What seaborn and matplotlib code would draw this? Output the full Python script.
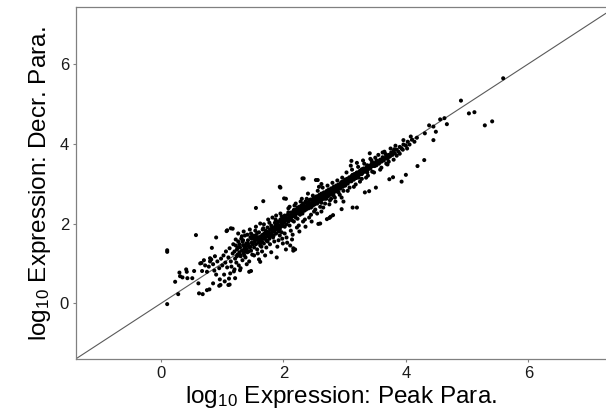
import matplotlib
matplotlib.use("Agg")
import matplotlib.pyplot as plt
import seaborn as sns
import pandas as pd

# ---- data: (log10 Peak Para., log10 Decr. Para.) ----
outliers = [
    (0.10, 1.29), (0.10, 1.33), (0.10, -0.02), (0.28, 0.23), (0.23, 0.54),
    (0.30, 0.77), (0.31, 0.68), (0.41, 0.85), (0.42, 0.79), (0.35, 0.65),
    (0.43, 0.63), (0.51, 0.63), (0.54, 0.81), (0.57, 1.71), (0.62, 0.25),
    (0.68, 0.23), (0.75, 0.33), (0.79, 0.35), (0.61, 0.50), (0.64, 1.00),
    (0.67, 0.81), (0.75, 0.79), (0.85, 0.50), (0.95, 0.44), (1.10, 0.46),
    (1.13, 0.75), (1.21, 0.63), (1.29, 0.83), (0.90, 1.65), (1.14, 1.88),
    (1.07, 1.81), (1.44, 0.79), (1.62, 1.04), (1.89, 1.15), (2.16, 1.32),
    (2.04, 1.35), (2.19, 1.35), (1.55, 2.39), (1.67, 2.56), (1.95, 2.90),
    (2.04, 2.62), (2.33, 3.13), (2.56, 3.09), (2.60, 2.00), (2.57, 1.99),
    (2.75, 2.14), (2.81, 2.21), (2.77, 2.17), (2.71, 2.11), (2.95, 2.36),
    (2.98, 2.55), (3.13, 2.40), (3.20, 2.40), (3.33, 2.78), (3.40, 2.81),
    (3.51, 2.90), (3.11, 3.57), (3.41, 3.76), (3.73, 3.11), (3.79, 3.16),
    (3.93, 3.05), (4.00, 3.22), (4.19, 3.44), (4.30, 3.59), (4.45, 4.09),
    (3.96, 4.09), (4.31, 4.26), (4.38, 4.46), (4.45, 4.43), (4.49, 4.30),
    (4.56, 4.61), (4.63, 4.64), (4.67, 4.49), (4.90, 5.08), (5.03, 4.76),
    (5.12, 4.79), (5.29, 4.46), (5.41, 4.56), (5.59, 5.64), (2.62, 2.30),
    (2.16, 1.38), (2.31, 3.13), (2.53, 3.09), (2.62, 2.99), (2.01, 2.63),
    (1.94, 2.92), (1.47, 0.81), (1.20, 0.85), (1.12, 0.47), (0.97, 0.46),
    (1.08, 1.83), (1.17, 1.87), (0.83, 1.39), (0.80, 1.13), (0.66, 1.01),
]

band_low = [
    (0.92, 1.05), (0.95, 0.88), (0.98, 1.12), (1.00, 0.95), (1.02, 1.20),
    (1.03, 0.72), (1.05, 1.02), (1.06, 1.30), (1.08, 0.90), (1.10, 1.15),
    (1.11, 0.62), (1.12, 1.38), (1.14, 1.05), (1.15, 0.92), (1.17, 1.25),
    (1.18, 1.48), (1.19, 0.80), (0.88, 1.18), (0.85, 0.98), (0.82, 1.10),
    (0.78, 0.92), (0.80, 1.05), (0.72, 0.95), (0.70, 1.08), (0.90, 0.72),
    (0.96, 0.60), (1.04, 0.55), (0.87, 0.82),
    (1.20, 1.30), (1.21, 1.12), (1.22, 1.45), (1.23, 1.02), (1.24, 1.35),
    (1.25, 1.22), (1.26, 1.55), (1.27, 0.95), (1.28, 1.28), (1.29, 1.40),
    (1.30, 1.18), (1.31, 1.62), (1.32, 1.32), (1.33, 1.08), (1.34, 1.46),
    (1.35, 1.25), (1.36, 1.38), (1.37, 1.70), (1.38, 1.15), (1.39, 1.50),
    (1.40, 1.36), (1.41, 1.28), (1.42, 1.58), (1.43, 1.44), (1.44, 1.05),
    (1.45, 1.40), (1.46, 1.66), (1.47, 1.32), (1.48, 1.52), (1.49, 1.22),
    (1.50, 1.48), (1.22, 1.60), (1.26, 1.75), (1.30, 0.88), (1.35, 1.80),
    (1.40, 0.98), (1.45, 1.85), (1.28, 1.48), (1.33, 1.55), (1.38, 1.42),
    (1.43, 1.30), (1.48, 1.62), (1.24, 1.18), (1.36, 1.20), (1.47, 1.75),
    (1.41, 1.72), (1.32, 1.68),
]

band_mid = [
    (1.51, 1.62), (1.52, 1.40), (1.53, 1.55), (1.54, 1.70), (1.55, 1.48),
    (1.56, 1.60), (1.57, 1.35), (1.58, 1.66), (1.59, 1.52), (1.60, 1.78),
    (1.61, 1.58), (1.62, 1.45), (1.63, 1.68), (1.64, 1.62), (1.65, 1.55),
    (1.66, 1.85), (1.67, 1.70), (1.68, 1.50), (1.69, 1.75), (1.70, 1.65),
    (1.71, 1.82), (1.72, 1.58), (1.73, 1.72), (1.74, 1.90), (1.75, 1.68),
    (1.76, 1.78), (1.77, 1.62), (1.78, 1.85), (1.79, 1.75), (1.80, 1.95),
    (1.81, 1.72), (1.82, 1.82), (1.83, 1.65), (1.84, 1.90), (1.85, 1.80),
    (1.86, 2.02), (1.87, 1.85), (1.88, 1.75), (1.89, 1.92), (1.90, 1.88),
    (1.91, 2.05), (1.92, 1.80), (1.93, 1.95), (1.94, 1.85), (1.95, 2.10),
    (1.96, 1.92), (1.97, 1.78), (1.98, 2.00), (1.99, 1.95), (2.00, 2.12),
    (1.52, 1.20), (1.55, 1.92), (1.58, 1.25), (1.62, 2.00), (1.65, 1.30),
    (1.68, 1.98), (1.72, 1.40), (1.75, 2.10), (1.78, 1.48), (1.82, 2.15),
    (1.85, 1.55), (1.88, 2.20), (1.92, 1.58), (1.95, 2.25), (1.98, 1.62),
    (1.60, 1.10), (1.70, 1.20), (1.80, 1.28), (1.90, 1.42), (1.74, 1.55),
    (1.84, 1.70), (1.94, 1.70), (1.64, 1.42), (1.54, 1.82), (1.67, 1.88),
    (1.77, 2.02), (1.87, 2.10), (1.97, 2.18),
    (2.01, 2.02), (2.02, 1.92), (2.03, 2.08), (2.04, 2.15), (2.05, 1.98),
    (2.06, 2.10), (2.07, 2.22), (2.08, 2.05), (2.09, 2.15), (2.10, 1.95),
    (2.11, 2.20), (2.12, 2.12), (2.13, 2.28), (2.14, 2.08), (2.15, 2.18),
    (2.16, 2.25), (2.17, 2.05), (2.18, 2.30), (2.19, 2.20), (2.20, 2.15),
    (2.21, 2.35), (2.22, 2.25), (2.23, 2.12), (2.24, 2.32), (2.25, 2.28),
    (2.26, 2.42), (2.27, 2.22), (2.28, 2.35), (2.29, 2.30), (2.30, 2.45),
    (2.31, 2.25), (2.32, 2.38), (2.33, 2.48), (2.34, 2.32), (2.35, 2.42),
    (2.36, 2.55), (2.37, 2.35), (2.38, 2.45), (2.39, 2.40), (2.40, 2.52),
    (2.41, 2.38), (2.42, 2.58), (2.43, 2.45), (2.44, 2.50), (2.45, 2.40),
    (2.46, 2.60), (2.47, 2.52), (2.48, 2.45), (2.49, 2.62), (2.50, 2.55),
    (2.02, 1.75), (2.08, 2.38), (2.12, 1.82), (2.18, 2.45), (2.22, 1.90),
    (2.28, 2.55), (2.32, 2.05), (2.38, 2.62), (2.42, 2.15), (2.48, 2.70),
    (2.05, 1.65), (2.15, 1.72), (2.25, 1.95), (2.35, 2.10), (2.45, 2.22),
    (2.10, 2.42), (2.20, 2.50), (2.30, 2.62), (2.40, 2.75), (2.50, 2.30),
    (2.14, 1.60), (2.26, 1.80), (2.36, 1.92), (2.46, 2.05), (2.06, 1.52),
    (2.11, 1.45), (1.99, 1.50),
]

band_high = [
    (2.51, 2.48), (2.52, 2.60), (2.53, 2.55), (2.54, 2.68), (2.55, 2.50),
    (2.56, 2.62), (2.57, 2.58), (2.58, 2.70), (2.59, 2.55), (2.60, 2.65),
    (2.61, 2.62), (2.62, 2.75), (2.63, 2.60), (2.64, 2.70), (2.65, 2.66),
    (2.66, 2.78), (2.67, 2.62), (2.68, 2.72), (2.69, 2.68), (2.70, 2.80),
    (2.71, 2.70), (2.72, 2.76), (2.73, 2.68), (2.74, 2.85), (2.75, 2.75),
    (2.76, 2.80), (2.77, 2.72), (2.78, 2.88), (2.79, 2.78), (2.80, 2.84),
    (2.81, 2.76), (2.82, 2.92), (2.83, 2.82), (2.84, 2.88), (2.85, 2.80),
    (2.86, 2.95), (2.87, 2.86), (2.88, 2.92), (2.89, 2.85), (2.90, 2.98),
    (2.91, 2.90), (2.92, 2.96), (2.93, 2.88), (2.94, 3.02), (2.95, 2.94),
    (2.96, 3.00), (2.97, 2.92), (2.98, 3.06), (2.99, 2.98), (3.00, 3.04),
    (2.52, 2.35), (2.56, 2.82), (2.60, 2.42), (2.64, 2.90), (2.68, 2.50),
    (2.72, 2.95), (2.76, 2.58), (2.80, 3.02), (2.84, 2.65), (2.88, 3.08),
    (2.92, 2.72), (2.96, 3.15), (2.55, 2.25), (2.65, 2.40), (2.75, 2.48),
    (2.85, 2.55), (2.95, 2.65), (2.58, 2.92), (2.70, 2.62), (2.82, 2.70),
    (2.90, 2.78), (2.98, 2.82), (2.62, 2.52), (2.78, 2.62),
    (3.01, 2.95), (3.02, 3.08), (3.03, 3.02), (3.04, 3.12), (3.05, 3.00),
    (3.06, 3.10), (3.07, 3.05), (3.08, 3.16), (3.09, 3.08), (3.10, 3.12),
    (3.11, 3.06), (3.12, 3.20), (3.13, 3.12), (3.14, 3.18), (3.15, 3.10),
    (3.16, 3.24), (3.17, 3.16), (3.18, 3.20), (3.19, 3.14), (3.20, 3.28),
    (3.22, 3.22), (3.24, 3.30), (3.26, 3.24), (3.28, 3.36), (3.30, 3.28),
    (3.32, 3.34), (3.34, 3.30), (3.36, 3.42), (3.38, 3.36), (3.40, 3.44),
    (3.42, 3.38), (3.44, 3.50), (3.46, 3.44), (3.48, 3.48), (3.50, 3.52),
    (3.03, 3.28), (3.08, 2.90), (3.12, 3.35), (3.18, 2.98), (3.22, 3.42),
    (3.28, 3.12), (3.32, 3.50), (3.38, 3.20), (3.44, 3.58), (3.48, 3.28),
    (3.05, 2.82), (3.15, 2.92), (3.25, 3.05), (3.35, 3.15), (3.45, 3.30),
    (3.10, 3.45), (3.20, 3.52), (3.30, 3.58), (3.42, 3.62), (3.23, 3.15),
    (3.37, 3.28),
    (3.52, 3.46), (3.54, 3.56), (3.56, 3.50), (3.58, 3.60), (3.60, 3.55),
    (3.62, 3.66), (3.64, 3.58), (3.66, 3.64), (3.68, 3.70), (3.70, 3.62),
    (3.72, 3.72), (3.74, 3.68), (3.76, 3.78), (3.78, 3.72), (3.80, 3.82),
    (3.82, 3.76), (3.85, 3.85), (3.88, 3.80), (3.90, 3.92), (3.93, 3.88),
    (3.96, 3.98), (4.00, 3.95), (4.03, 4.05), (4.06, 3.98), (4.10, 4.10),
    (4.14, 4.05), (4.18, 4.15),
    (3.55, 3.72), (3.60, 3.40), (3.65, 3.80), (3.70, 3.48), (3.75, 3.88),
    (3.80, 3.60), (3.85, 3.70), (3.90, 3.75), (3.95, 3.85), (3.58, 3.35),
    (3.68, 3.50), (3.62, 3.78), (3.83, 3.95), (4.02, 3.88), (4.08, 4.18),
    (3.50, 3.65), (3.72, 3.55),
]

# extra points filling the solid core of the band
band_core = [
    (1.25, 1.40), (1.29, 1.22), (1.34, 1.58), (1.37, 1.30), (1.42, 1.50),
    (1.46, 1.42), (1.50, 1.70), (1.53, 1.64), (1.57, 1.76), (1.60, 1.62),
    (1.63, 1.52), (1.66, 1.72), (1.69, 1.62), (1.72, 1.80), (1.75, 1.78),
    (1.78, 1.68), (1.81, 1.88), (1.84, 1.80), (1.87, 1.96), (1.90, 1.98),
    (1.93, 1.88), (1.96, 2.02), (1.99, 2.05), (2.02, 2.20), (2.05, 2.12),
    (2.08, 2.28), (2.11, 2.10), (2.14, 2.22), (2.17, 2.34), (2.20, 2.28),
    (2.23, 2.40), (2.26, 2.30), (2.29, 2.44), (2.32, 2.50), (2.35, 2.36),
    (2.38, 2.52), (2.41, 2.48), (2.44, 2.60), (2.47, 2.45), (2.50, 2.64),
    (2.53, 2.62), (2.56, 2.55), (2.59, 2.72), (2.62, 2.66), (2.65, 2.74),
    (2.68, 2.64), (2.71, 2.82), (2.74, 2.74), (2.77, 2.84), (2.80, 2.78),
    (2.83, 2.90), (2.86, 2.84), (2.89, 2.96), (2.92, 2.88), (2.95, 3.04),
    (2.98, 2.96), (3.01, 3.10), (3.04, 3.04), (3.07, 3.14), (3.10, 3.06),
    (3.13, 3.22), (3.16, 3.14), (3.19, 3.26), (3.22, 3.18), (3.25, 3.32),
    (3.28, 3.24), (3.31, 3.38), (3.34, 3.36), (3.37, 3.46), (3.40, 3.38),
    (3.43, 3.46), (3.46, 3.52), (3.49, 3.44), (3.52, 3.58), (3.57, 3.54),
    (3.63, 3.62), (3.67, 3.74), (3.71, 3.66), (3.77, 3.74), (3.81, 3.86),
]

x_ticks = [0, 2, 4, 6]
y_ticks = [0, 2, 4, 6]
x_label = "log$_{10}$ Expression: Peak Para."
y_label = "log$_{10}$ Expression: Decr. Para."

points = outliers + band_low + band_mid + band_high + band_core
df = pd.DataFrame(points, columns=["peak", "decr"])

# ---- style ----
sns.set_style("white")
plt.rcParams["font.family"] = ["Liberation Sans", "DejaVu Sans"]
plt.rcParams["mathtext.fontset"] = "custom"
plt.rcParams["mathtext.rm"] = "Liberation Sans"
plt.rcParams["mathtext.it"] = "Liberation Sans:italic"
plt.rcParams["mathtext.bf"] = "Liberation Sans:bold"

fig = plt.figure(figsize=(6.06, 4.19), dpi=100)
ax = fig.add_axes([76 / 606, 1 - 359.3 / 419, (606 - 76) / 606, (359.3 - 7.3) / 419])

ax.axline((0, 0), slope=1, color="#5a5a5a", lw=0.8, zorder=1)
sns.scatterplot(data=df, x="peak", y="decr", ax=ax, color="black", s=8.5,
                linewidth=0, edgecolor="none", zorder=2)

ax.set_xlim(-1.39, 7.27)
ax.set_ylim(-1.403, 7.419)
ax.set_xticks(x_ticks)
ax.set_yticks(y_ticks)
ax.set_xticklabels([str(t) for t in x_ticks])
ax.set_yticklabels([str(t) for t in y_ticks])

for side in ["left", "bottom", "top"]:
    ax.spines[side].set_visible(True)
    ax.spines[side].set_color("#808080")
    ax.spines[side].set_linewidth(0.9)
ax.spines["right"].set_visible(False)

ax.tick_params(axis="both", which="major", length=2.5, width=0.8,
               color="#808080", labelsize=12, labelcolor="#1a1a1a",
               direction="out", pad=2.5, bottom=True, left=True)

ax.set_xlabel(x_label, fontsize=17.5, color="black", labelpad=2)
ax.set_ylabel(y_label, fontsize=17.5, color="black", labelpad=5)

fig.savefig("out.png", dpi=100, facecolor="white")
